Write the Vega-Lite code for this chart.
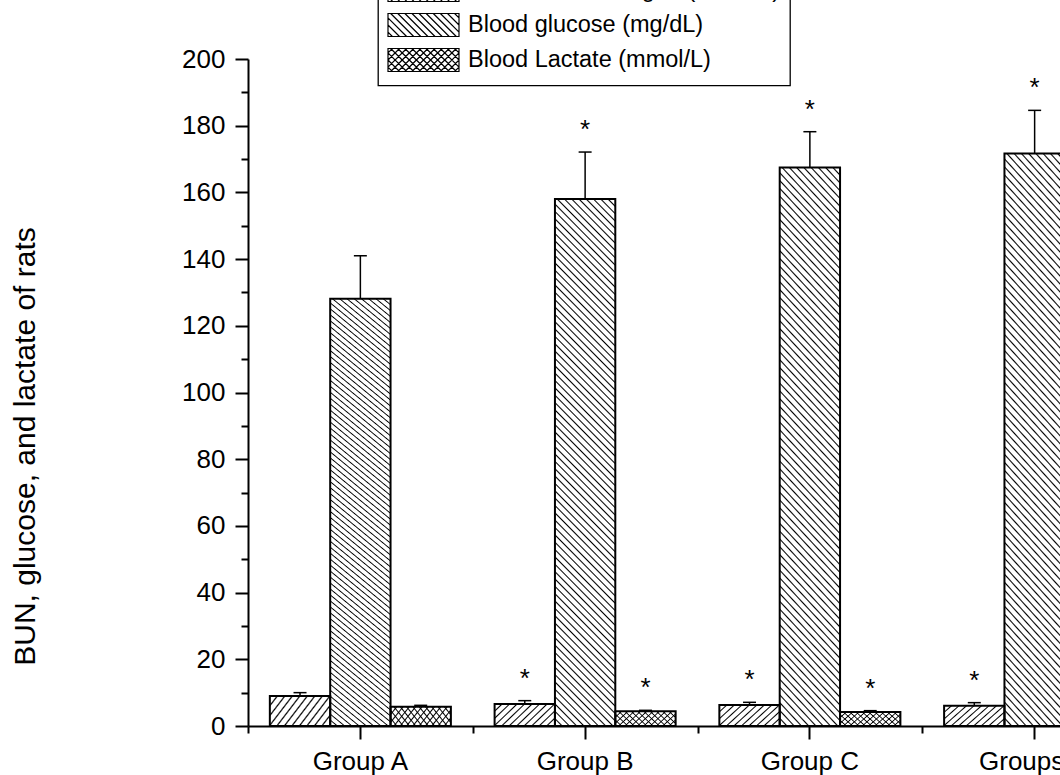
{
  "$schema": "https://vega.github.io/schema/vega-lite/v6.json",
  "width": 812,
  "height": 667,
  "autosize": "none",
  "padding": {"left": 248, "top": 59, "right": 0, "bottom": 49},
  "background": "white",
  "config": {
    "view": {"stroke": null},
    "font": "Liberation Sans",
    "legend": {"strokeWidth": 1.3},
    "axis": {"labelFont": "Liberation Sans", "titleFont": "Liberation Sans"}
  },
  "data": {
    "values": [
      {"group": "Group A", "series": "Blood Urea Nitrogen (mmol/L)", "mean": 9.0, "upper": 10.0, "sig": ""},
      {"group": "Group A", "series": "Blood glucose (mg/dL)", "mean": 128.1, "upper": 141.0, "sig": ""},
      {"group": "Group A", "series": "Blood Lactate (mmol/L)", "mean": 5.8, "upper": 6.2, "sig": ""},
      {"group": "Group B", "series": "Blood Urea Nitrogen (mmol/L)", "mean": 6.6, "upper": 7.6, "sig": "*"},
      {"group": "Group B", "series": "Blood glucose (mg/dL)", "mean": 158.0, "upper": 172.1, "sig": "*"},
      {"group": "Group B", "series": "Blood Lactate (mmol/L)", "mean": 4.4, "upper": 4.7, "sig": "*"},
      {"group": "Group C", "series": "Blood Urea Nitrogen (mmol/L)", "mean": 6.3, "upper": 7.1, "sig": "*"},
      {"group": "Group C", "series": "Blood glucose (mg/dL)", "mean": 167.5, "upper": 178.2, "sig": "*"},
      {"group": "Group C", "series": "Blood Lactate (mmol/L)", "mean": 4.2, "upper": 4.6, "sig": "*"},
      {"group": "Groups D", "series": "Blood Urea Nitrogen (mmol/L)", "mean": 6.1, "upper": 7.0, "sig": "*"},
      {"group": "Groups D", "series": "Blood glucose (mg/dL)", "mean": 171.7, "upper": 184.6, "sig": "*"},
      {"group": "Groups D", "series": "Blood Lactate (mmol/L)", "mean": 4.1, "upper": 4.5, "sig": "*"}
    ]
  },
  "encoding": {
    "x": {"field": "group", "type": "nominal", "sort": null, "axis": null,
      "scale": {"domain": ["Group A", "Group B", "Group C", "Groups D"], "range": [0, 899], "paddingInner": 0.1945, "paddingOuter": 0.0972}},
    "xOffset": {"field": "series", "type": "nominal", "sort": null,
      "scale": {"domain": ["Blood Urea Nitrogen (mmol/L)", "Blood glucose (mg/dL)", "Blood Lactate (mmol/L)"], "paddingInner": 0, "paddingOuter": 0}},
    "y": {"field": "mean", "type": "quantitative", "stack": null, "axis": null,
      "scale": {"domain": [0, 200], "nice": false, "zero": true}}
  },
  "layer": [
    {
      "transform": [{"filter": "datum.series === 'Blood glucose (mg/dL)'"}],
      "mark": {"type": "bar", "strokeWidth": 0, "fill": {"gradient": "linear", "x1": 0, "y1": 1, "x2": 0.12776, "y2": -0.1012, "stops": [
        {"offset":0,"color":"#000"},{"offset":0.0025,"color":"#fff"},{"offset":0.01,"color":"#fff"},
        {"offset":0.0125,"color":"#000"},{"offset":0.015,"color":"#fff"},{"offset":0.0225,"color":"#fff"},
        {"offset":0.025,"color":"#000"},{"offset":0.0275,"color":"#fff"},{"offset":0.035,"color":"#fff"},
        {"offset":0.0375,"color":"#000"},{"offset":0.04,"color":"#fff"},{"offset":0.0475,"color":"#fff"},
        {"offset":0.05,"color":"#000"},{"offset":0.0525,"color":"#fff"},{"offset":0.06,"color":"#fff"},
        {"offset":0.0625,"color":"#000"},{"offset":0.065,"color":"#fff"},{"offset":0.0725,"color":"#fff"},
        {"offset":0.075,"color":"#000"},{"offset":0.0775,"color":"#fff"},{"offset":0.085,"color":"#fff"},
        {"offset":0.0875,"color":"#000"},{"offset":0.09,"color":"#fff"},{"offset":0.0975,"color":"#fff"},
        {"offset":0.1,"color":"#000"},{"offset":0.1025,"color":"#fff"},{"offset":0.11,"color":"#fff"},
        {"offset":0.1125,"color":"#000"},{"offset":0.115,"color":"#fff"},{"offset":0.1225,"color":"#fff"},
        {"offset":0.125,"color":"#000"},{"offset":0.1275,"color":"#fff"},{"offset":0.135,"color":"#fff"},
        {"offset":0.1375,"color":"#000"},{"offset":0.14,"color":"#fff"},{"offset":0.1475,"color":"#fff"},
        {"offset":0.15,"color":"#000"},{"offset":0.1525,"color":"#fff"},{"offset":0.16,"color":"#fff"},
        {"offset":0.1625,"color":"#000"},{"offset":0.165,"color":"#fff"},{"offset":0.1725,"color":"#fff"},
        {"offset":0.175,"color":"#000"},{"offset":0.1775,"color":"#fff"},{"offset":0.185,"color":"#fff"},
        {"offset":0.1875,"color":"#000"},{"offset":0.19,"color":"#fff"},{"offset":0.1975,"color":"#fff"},
        {"offset":0.2,"color":"#000"},{"offset":0.2025,"color":"#fff"},{"offset":0.21,"color":"#fff"},
        {"offset":0.2125,"color":"#000"},{"offset":0.215,"color":"#fff"},{"offset":0.2225,"color":"#fff"},
        {"offset":0.225,"color":"#000"},{"offset":0.2275,"color":"#fff"},{"offset":0.235,"color":"#fff"},
        {"offset":0.2375,"color":"#000"},{"offset":0.24,"color":"#fff"},{"offset":0.2475,"color":"#fff"},
        {"offset":0.25,"color":"#000"},{"offset":0.2525,"color":"#fff"},{"offset":0.26,"color":"#fff"},
        {"offset":0.2625,"color":"#000"},{"offset":0.265,"color":"#fff"},{"offset":0.2725,"color":"#fff"},
        {"offset":0.275,"color":"#000"},{"offset":0.2775,"color":"#fff"},{"offset":0.285,"color":"#fff"},
        {"offset":0.2875,"color":"#000"},{"offset":0.29,"color":"#fff"},{"offset":0.2975,"color":"#fff"},
        {"offset":0.3,"color":"#000"},{"offset":0.3025,"color":"#fff"},{"offset":0.31,"color":"#fff"},
        {"offset":0.3125,"color":"#000"},{"offset":0.315,"color":"#fff"},{"offset":0.3225,"color":"#fff"},
        {"offset":0.325,"color":"#000"},{"offset":0.3275,"color":"#fff"},{"offset":0.335,"color":"#fff"},
        {"offset":0.3375,"color":"#000"},{"offset":0.34,"color":"#fff"},{"offset":0.3475,"color":"#fff"},
        {"offset":0.35,"color":"#000"},{"offset":0.3525,"color":"#fff"},{"offset":0.36,"color":"#fff"},
        {"offset":0.3625,"color":"#000"},{"offset":0.365,"color":"#fff"},{"offset":0.3725,"color":"#fff"},
        {"offset":0.375,"color":"#000"},{"offset":0.3775,"color":"#fff"},{"offset":0.385,"color":"#fff"},
        {"offset":0.3875,"color":"#000"},{"offset":0.39,"color":"#fff"},{"offset":0.3975,"color":"#fff"},
        {"offset":0.4,"color":"#000"},{"offset":0.4025,"color":"#fff"},{"offset":0.41,"color":"#fff"},
        {"offset":0.4125,"color":"#000"},{"offset":0.415,"color":"#fff"},{"offset":0.4225,"color":"#fff"},
        {"offset":0.425,"color":"#000"},{"offset":0.4275,"color":"#fff"},{"offset":0.435,"color":"#fff"},
        {"offset":0.4375,"color":"#000"},{"offset":0.44,"color":"#fff"},{"offset":0.4475,"color":"#fff"},
        {"offset":0.45,"color":"#000"},{"offset":0.4525,"color":"#fff"},{"offset":0.46,"color":"#fff"},
        {"offset":0.4625,"color":"#000"},{"offset":0.465,"color":"#fff"},{"offset":0.4725,"color":"#fff"},
        {"offset":0.475,"color":"#000"},{"offset":0.4775,"color":"#fff"},{"offset":0.485,"color":"#fff"},
        {"offset":0.4875,"color":"#000"},{"offset":0.49,"color":"#fff"},{"offset":0.4975,"color":"#fff"},
        {"offset":0.5,"color":"#000"},{"offset":0.5025,"color":"#fff"},{"offset":0.51,"color":"#fff"},
        {"offset":0.5125,"color":"#000"},{"offset":0.515,"color":"#fff"},{"offset":0.5225,"color":"#fff"},
        {"offset":0.525,"color":"#000"},{"offset":0.5275,"color":"#fff"},{"offset":0.535,"color":"#fff"},
        {"offset":0.5375,"color":"#000"},{"offset":0.54,"color":"#fff"},{"offset":0.5475,"color":"#fff"},
        {"offset":0.55,"color":"#000"},{"offset":0.5525,"color":"#fff"},{"offset":0.56,"color":"#fff"},
        {"offset":0.5625,"color":"#000"},{"offset":0.565,"color":"#fff"},{"offset":0.5725,"color":"#fff"},
        {"offset":0.575,"color":"#000"},{"offset":0.5775,"color":"#fff"},{"offset":0.585,"color":"#fff"},
        {"offset":0.5875,"color":"#000"},{"offset":0.59,"color":"#fff"},{"offset":0.5975,"color":"#fff"},
        {"offset":0.6,"color":"#000"},{"offset":0.6025,"color":"#fff"},{"offset":0.61,"color":"#fff"},
        {"offset":0.6125,"color":"#000"},{"offset":0.615,"color":"#fff"},{"offset":0.6225,"color":"#fff"},
        {"offset":0.625,"color":"#000"},{"offset":0.6275,"color":"#fff"},{"offset":0.635,"color":"#fff"},
        {"offset":0.6375,"color":"#000"},{"offset":0.64,"color":"#fff"},{"offset":0.6475,"color":"#fff"},
        {"offset":0.65,"color":"#000"},{"offset":0.6525,"color":"#fff"},{"offset":0.66,"color":"#fff"},
        {"offset":0.6625,"color":"#000"},{"offset":0.665,"color":"#fff"},{"offset":0.6725,"color":"#fff"},
        {"offset":0.675,"color":"#000"},{"offset":0.6775,"color":"#fff"},{"offset":0.685,"color":"#fff"},
        {"offset":0.6875,"color":"#000"},{"offset":0.69,"color":"#fff"},{"offset":0.6975,"color":"#fff"},
        {"offset":0.7,"color":"#000"},{"offset":0.7025,"color":"#fff"},{"offset":0.71,"color":"#fff"},
        {"offset":0.7125,"color":"#000"},{"offset":0.715,"color":"#fff"},{"offset":0.7225,"color":"#fff"},
        {"offset":0.725,"color":"#000"},{"offset":0.7275,"color":"#fff"},{"offset":0.735,"color":"#fff"},
        {"offset":0.7375,"color":"#000"},{"offset":0.74,"color":"#fff"},{"offset":0.7475,"color":"#fff"},
        {"offset":0.75,"color":"#000"},{"offset":0.7525,"color":"#fff"},{"offset":0.76,"color":"#fff"},
        {"offset":0.7625,"color":"#000"},{"offset":0.765,"color":"#fff"},{"offset":0.7725,"color":"#fff"},
        {"offset":0.775,"color":"#000"},{"offset":0.7775,"color":"#fff"},{"offset":0.785,"color":"#fff"},
        {"offset":0.7875,"color":"#000"},{"offset":0.79,"color":"#fff"},{"offset":0.7975,"color":"#fff"},
        {"offset":0.8,"color":"#000"},{"offset":0.8025,"color":"#fff"},{"offset":0.81,"color":"#fff"},
        {"offset":0.8125,"color":"#000"},{"offset":0.815,"color":"#fff"},{"offset":0.8225,"color":"#fff"},
        {"offset":0.825,"color":"#000"},{"offset":0.8275,"color":"#fff"},{"offset":0.835,"color":"#fff"},
        {"offset":0.8375,"color":"#000"},{"offset":0.84,"color":"#fff"},{"offset":0.8475,"color":"#fff"},
        {"offset":0.85,"color":"#000"},{"offset":0.8525,"color":"#fff"},{"offset":0.86,"color":"#fff"},
        {"offset":0.8625,"color":"#000"},{"offset":0.865,"color":"#fff"},{"offset":0.8725,"color":"#fff"},
        {"offset":0.875,"color":"#000"},{"offset":0.8775,"color":"#fff"},{"offset":0.885,"color":"#fff"},
        {"offset":0.8875,"color":"#000"},{"offset":0.89,"color":"#fff"},{"offset":0.8975,"color":"#fff"},
        {"offset":0.9,"color":"#000"},{"offset":0.9025,"color":"#fff"},{"offset":0.91,"color":"#fff"},
        {"offset":0.9125,"color":"#000"},{"offset":0.915,"color":"#fff"},{"offset":0.9225,"color":"#fff"},
        {"offset":0.925,"color":"#000"},{"offset":0.9275,"color":"#fff"},{"offset":0.935,"color":"#fff"},
        {"offset":0.9375,"color":"#000"},{"offset":0.94,"color":"#fff"},{"offset":0.9475,"color":"#fff"},
        {"offset":0.95,"color":"#000"},{"offset":0.9525,"color":"#fff"},{"offset":0.96,"color":"#fff"},
        {"offset":0.9625,"color":"#000"},{"offset":0.965,"color":"#fff"},{"offset":0.9725,"color":"#fff"},
        {"offset":0.975,"color":"#000"},{"offset":0.9775,"color":"#fff"},{"offset":0.985,"color":"#fff"},
        {"offset":0.9875,"color":"#000"},{"offset":0.99,"color":"#fff"},{"offset":0.9975,"color":"#fff"},
        {"offset":1,"color":"#000"}
      ]}}
    },
    {
      "transform": [{"filter": "datum.series === 'Blood Urea Nitrogen (mmol/L)'"}],
      "mark": {"type": "bar", "strokeWidth": 0, "fill": {"gradient": "linear", "x1": 0, "y1": 0, "x2": 1.2059, "y2": 0.4598, "stops": [
        {"offset":0,"color":"#000"},{"offset":0.018,"color":"#fff"},{"offset":0.072,"color":"#fff"},
        {"offset":0.09,"color":"#000"},{"offset":0.108,"color":"#fff"},{"offset":0.162,"color":"#fff"},
        {"offset":0.18,"color":"#000"},{"offset":0.198,"color":"#fff"},{"offset":0.252,"color":"#fff"},
        {"offset":0.27,"color":"#000"},{"offset":0.288,"color":"#fff"},{"offset":0.342,"color":"#fff"},
        {"offset":0.36,"color":"#000"},{"offset":0.378,"color":"#fff"},{"offset":0.432,"color":"#fff"},
        {"offset":0.45,"color":"#000"},{"offset":0.468,"color":"#fff"},{"offset":0.522,"color":"#fff"},
        {"offset":0.54,"color":"#000"},{"offset":0.558,"color":"#fff"},{"offset":0.612,"color":"#fff"},
        {"offset":0.63,"color":"#000"},{"offset":0.648,"color":"#fff"},{"offset":0.702,"color":"#fff"},
        {"offset":0.72,"color":"#000"},{"offset":0.738,"color":"#fff"},{"offset":0.792,"color":"#fff"},
        {"offset":0.81,"color":"#000"},{"offset":0.828,"color":"#fff"},{"offset":0.882,"color":"#fff"},
        {"offset":0.9,"color":"#000"},{"offset":0.918,"color":"#fff"},{"offset":0.972,"color":"#fff"},
        {"offset":0.99,"color":"#000"},{"offset":1,"color":"#fff"}
      ]}}
    },
    {
      "transform": [{"filter": "datum.series === 'Blood Lactate (mmol/L)'"}],
      "mark": {"type": "bar", "strokeWidth": 0, "fill": {"gradient": "linear", "x1": 0, "y1": 1, "x2": 1.1791, "y2": 0.69707, "stops": [
        {"offset":0,"color":"#000"},{"offset":0.017,"color":"#fff"},{"offset":0.066,"color":"#fff"},
        {"offset":0.083,"color":"#000"},{"offset":0.1,"color":"#fff"},{"offset":0.149,"color":"#fff"},
        {"offset":0.166,"color":"#000"},{"offset":0.183,"color":"#fff"},{"offset":0.232,"color":"#fff"},
        {"offset":0.249,"color":"#000"},{"offset":0.266,"color":"#fff"},{"offset":0.315,"color":"#fff"},
        {"offset":0.332,"color":"#000"},{"offset":0.349,"color":"#fff"},{"offset":0.398,"color":"#fff"},
        {"offset":0.415,"color":"#000"},{"offset":0.432,"color":"#fff"},{"offset":0.481,"color":"#fff"},
        {"offset":0.498,"color":"#000"},{"offset":0.515,"color":"#fff"},{"offset":0.564,"color":"#fff"},
        {"offset":0.581,"color":"#000"},{"offset":0.598,"color":"#fff"},{"offset":0.647,"color":"#fff"},
        {"offset":0.664,"color":"#000"},{"offset":0.681,"color":"#fff"},{"offset":0.73,"color":"#fff"},
        {"offset":0.747,"color":"#000"},{"offset":0.764,"color":"#fff"},{"offset":0.813,"color":"#fff"},
        {"offset":0.83,"color":"#000"},{"offset":0.847,"color":"#fff"},{"offset":0.896,"color":"#fff"},
        {"offset":0.913,"color":"#000"},{"offset":0.93,"color":"#fff"},{"offset":0.979,"color":"#fff"},
        {"offset":0.996,"color":"#000"},{"offset":1,"color":"#fff"}
      ]}}
    },
    {
      "transform": [{"filter": "datum.series === 'Blood Lactate (mmol/L)'"}],
      "mark": {"type": "bar", "strokeWidth": 0, "fill": {"gradient": "linear", "x1": 0, "y1": 0, "x2": 1.1791, "y2": 0.30293, "stops": [
        {"offset":0,"color":"#000"},{"offset":0.017,"color":"rgba(0,0,0,0)"},{"offset":0.066,"color":"rgba(0,0,0,0)"},
        {"offset":0.083,"color":"#000"},{"offset":0.1,"color":"rgba(0,0,0,0)"},{"offset":0.149,"color":"rgba(0,0,0,0)"},
        {"offset":0.166,"color":"#000"},{"offset":0.183,"color":"rgba(0,0,0,0)"},{"offset":0.232,"color":"rgba(0,0,0,0)"},
        {"offset":0.249,"color":"#000"},{"offset":0.266,"color":"rgba(0,0,0,0)"},{"offset":0.315,"color":"rgba(0,0,0,0)"},
        {"offset":0.332,"color":"#000"},{"offset":0.349,"color":"rgba(0,0,0,0)"},{"offset":0.398,"color":"rgba(0,0,0,0)"},
        {"offset":0.415,"color":"#000"},{"offset":0.432,"color":"rgba(0,0,0,0)"},{"offset":0.481,"color":"rgba(0,0,0,0)"},
        {"offset":0.498,"color":"#000"},{"offset":0.515,"color":"rgba(0,0,0,0)"},{"offset":0.564,"color":"rgba(0,0,0,0)"},
        {"offset":0.581,"color":"#000"},{"offset":0.598,"color":"rgba(0,0,0,0)"},{"offset":0.647,"color":"rgba(0,0,0,0)"},
        {"offset":0.664,"color":"#000"},{"offset":0.681,"color":"rgba(0,0,0,0)"},{"offset":0.73,"color":"rgba(0,0,0,0)"},
        {"offset":0.747,"color":"#000"},{"offset":0.764,"color":"rgba(0,0,0,0)"},{"offset":0.813,"color":"rgba(0,0,0,0)"},
        {"offset":0.83,"color":"#000"},{"offset":0.847,"color":"rgba(0,0,0,0)"},{"offset":0.896,"color":"rgba(0,0,0,0)"},
        {"offset":0.913,"color":"#000"},{"offset":0.93,"color":"rgba(0,0,0,0)"},{"offset":0.979,"color":"rgba(0,0,0,0)"},
        {"offset":0.996,"color":"#000"},{"offset":1,"color":"rgba(0,0,0,0)"}
      ]}}
    },
    {
      "mark": {"type": "bar", "fill": "transparent", "strokeWidth": 2},
      "encoding": {
        "x": {"field": "group", "type": "nominal", "sort": null,
          "scale": {"domain": ["Group A", "Group B", "Group C", "Groups D"], "range": [0, 899], "paddingInner": 0.1945, "paddingOuter": 0.0972},
          "axis": {"orient": "bottom", "title": null, "grid": false, "domainColor": "black", "domainWidth": 2, "tickColor": "black", "tickWidth": 2, "tickSize": 13, "labelFont": "Liberation Sans", "labelFontSize": 26, "labelColor": "black", "labelPadding": 9, "labelAngle": 0}},
        "y": {"field": "mean", "type": "quantitative", "stack": null,
          "axis": {
            "orient": "left",
            "values": [0, 20, 40, 60, 80, 100, 120, 140, 160, 180, 200],
            "grid": false, "title": null,
            "domainColor": "black", "domainWidth": 2, "tickColor": "black", "tickWidth": 2, "tickSize": 13,
            "labelFont": "Liberation Sans", "labelFontSize": 26, "labelColor": "black", "labelPadding": 10
          }},
        "stroke": {"field": "series", "type": "nominal",
          "scale": {"domain": ["Blood Urea Nitrogen (mmol/L)", "Blood glucose (mg/dL)", "Blood Lactate (mmol/L)"], "range": ["black", "black", "black"]},
          "legend": {
            "orient": "none", "legendX": 130, "legendY": -94.5, "title": null, "direction": "vertical",
            "padding": 9, "strokeColor": "black", "fillColor": "white", "cornerRadius": 0,
            "symbolSize": 5041, "symbolStrokeWidth": 1.2, "symbolFillColor": "white", "symbolOpacity": 1,
            "labelFont": "Liberation Sans", "labelFontSize": 23.5, "labelColor": "black", "labelOffset": 8, "labelLimit": 0,
            "clipHeight": 33, "rowPadding": 2
          }}
      }
    },
    {
      "mark": {"type": "rule", "color": "black", "strokeWidth": 1.5},
      "encoding": {
        "x": {"field": "group", "type": "nominal", "sort": null,
          "scale": {"domain": ["Group A", "Group B", "Group C", "Groups D"], "range": [0, 899], "paddingInner": 0.1945, "paddingOuter": 0.0972},
          "axis": {"orient": "bottom", "title": null, "grid": false, "domain": false, "labels": false, "tickColor": "black", "tickWidth": 2, "tickSize": 7, "bandPosition": 0, "tickOffset": -21.85}},
        "y": {"field": "mean", "type": "quantitative", "stack": null,
          "axis": {"orient": "left", "values": [10, 30, 50, 70, 90, 110, 130, 150, 170, 190], "grid": false, "domain": false, "labels": false,
            "tickColor": "black", "tickWidth": 2, "tickSize": 7,
            "title": "BUN, glucose, and lactate of rats", "titleFont": "Liberation Sans", "titleFontSize": 30, "titleFontWeight": "normal", "titleColor": "black",
            "titlePadding": 200, "titleY": 387}},
        "y2": {"field": "upper"}
      }
    },
    {
      "mark": {"type": "point", "shape": "M-1,0H1", "size": 169, "filled": false, "stroke": "black", "strokeWidth": 1.5, "opacity": 1},
      "encoding": {
        "y": {"field": "upper", "type": "quantitative", "axis": null}
      }
    },
    {
      "transform": [{"filter": "datum.sig !== ''"}],
      "mark": {"type": "text", "font": "Liberation Sans", "fontSize": 26, "baseline": "alphabetic", "align": "center", "dy": -14, "color": "black"},
      "encoding": {
        "y": {"field": "upper", "type": "quantitative", "axis": null},
        "text": {"field": "sig"}
      }
    },
    {
      "transform": [{"filter": "false"}],
      "mark": {"type": "point", "filled": false, "strokeWidth": 1.2, "size": 5041, "opacity": 1},
      "encoding": {
        "shape": {"field": "series", "type": "nominal",
          "scale": {"domain": ["Blood Urea Nitrogen (mmol/L)", "Blood glucose (mg/dL)", "Blood Lactate (mmol/L)"],
            "range": [
              "M-1,-0.324H1V0.324H-1ZM-1,-0.2L-0.876,-0.324M-1,0L-0.676,-0.324M-1,0.2L-0.476,-0.324M-0.924,0.324L-0.276,-0.324M-0.724,0.324L-0.076,-0.324M-0.524,0.324L0.124,-0.324M-0.324,0.324L0.324,-0.324M-0.124,0.324L0.524,-0.324M0.076,0.324L0.724,-0.324M0.276,0.324L0.924,-0.324M0.476,0.324L1,-0.2M0.676,0.324L1,0M0.876,0.324L1,0.2",
              "M-1,-0.324H1V0.324H-1ZM-1,0.2L-0.876,0.324M-1,0L-0.676,0.324M-1,-0.2L-0.476,0.324M-0.924,-0.324L-0.276,0.324M-0.724,-0.324L-0.076,0.324M-0.524,-0.324L0.124,0.324M-0.324,-0.324L0.324,0.324M-0.124,-0.324L0.524,0.324M0.076,-0.324L0.724,0.324M0.276,-0.324L0.924,0.324M0.476,-0.324L1,0.2M0.676,-0.324L1,0M0.876,-0.324L1,-0.2",
              "M-1,-0.324H1V0.324H-1ZM-1,0.2L-0.876,0.324M-1,0L-0.676,0.324M-1,-0.2L-0.476,0.324M-0.924,-0.324L-0.276,0.324M-0.724,-0.324L-0.076,0.324M-0.524,-0.324L0.124,0.324M-0.324,-0.324L0.324,0.324M-0.124,-0.324L0.524,0.324M0.076,-0.324L0.724,0.324M0.276,-0.324L0.924,0.324M0.476,-0.324L1,0.2M0.676,-0.324L1,0M0.876,-0.324L1,-0.2M-1,-0.2L-0.876,-0.324M-1,0L-0.676,-0.324M-1,0.2L-0.476,-0.324M-0.924,0.324L-0.276,-0.324M-0.724,0.324L-0.076,-0.324M-0.524,0.324L0.124,-0.324M-0.324,0.324L0.324,-0.324M-0.124,0.324L0.524,-0.324M0.076,0.324L0.724,-0.324M0.276,0.324L0.924,-0.324M0.476,0.324L1,-0.2M0.676,0.324L1,0M0.876,0.324L1,0.2"
            ]},
          "legend": {
            "orient": "none", "legendX": 130, "legendY": -94.5, "title": null, "direction": "vertical",
            "padding": 9, "strokeColor": "black", "fillColor": "white", "cornerRadius": 0,
            "symbolSize": 5041, "symbolStrokeWidth": 1.2, "symbolFillColor": "white", "symbolOpacity": 1,
            "labelFont": "Liberation Sans", "labelFontSize": 23.5, "labelColor": "black", "labelOffset": 8, "labelLimit": 0,
            "clipHeight": 33, "rowPadding": 2
          }}
      }
    }
  ],
  "resolve": {"axis": {"x": "independent", "y": "independent"}}
}
